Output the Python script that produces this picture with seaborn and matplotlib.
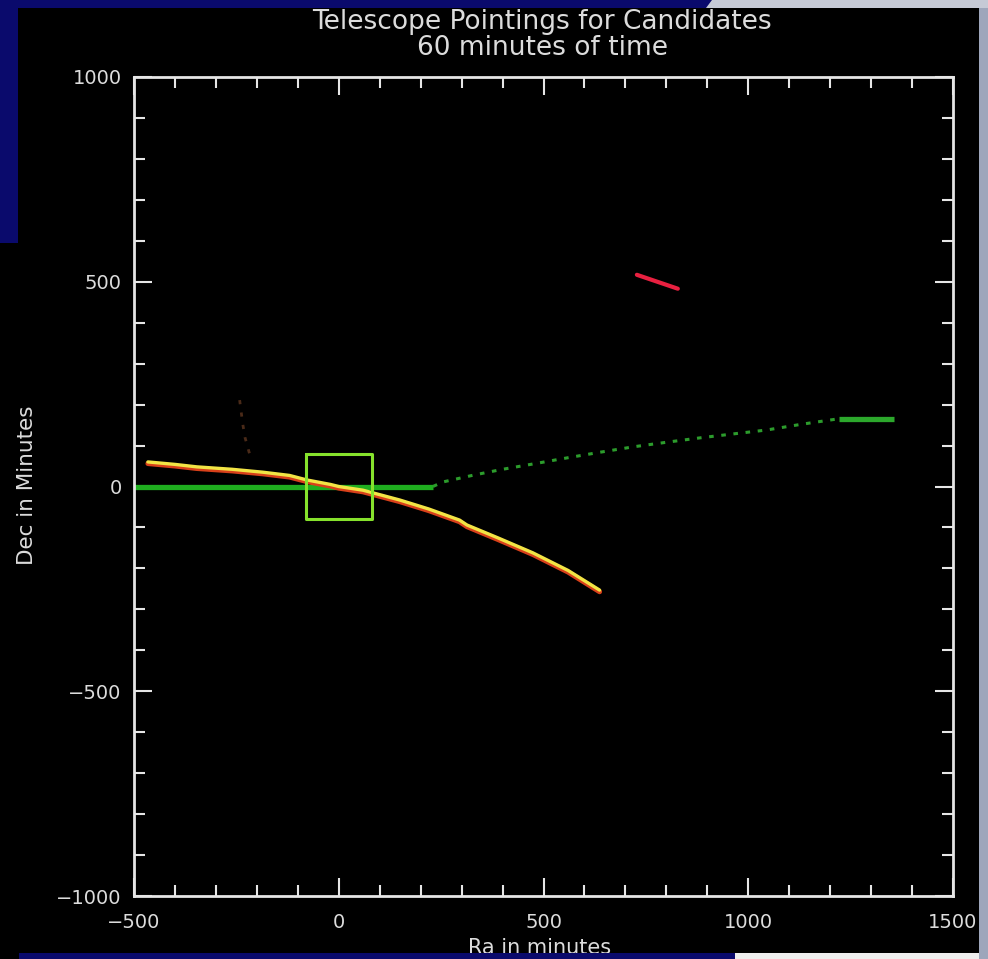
import numpy as np
import pandas as pd
import matplotlib
matplotlib.use("Agg")
import matplotlib.pyplot as plt
from matplotlib.patches import Rectangle, Polygon
from matplotlib.ticker import MultipleLocator
import seaborn as sns

# ---- data ----
yellow_ra = [-466, -400, -347, -260, -186, -120, -78, -20, 0, 59, 149, 220, 295, 313, 390, 474, 560, 637]
yellow_dec = [60, 54, 48, 42, 35, 27, 16, 5, 0, -9, -33, -55, -82, -94, -126, -162, -205, -253]

flat_ra = [-500, 230]
flat_dec = [0, 0]

track_ra = [230, 254, 330, 400, 480, 558, 640, 720, 800, 884, 960, 1045, 1130, 1218]
track_dec = [0, 11, 28, 42, 56, 70, 84, 97, 108, 119, 128, 138, 152, 165]

end_ra = [1222, 1355]
end_dec = [165, 165]

red_ra = [728, 828]
red_dec = [517, 483]

brown_ra = [-242, -238, -234, -229, -222, -217]
brown_dec = [211, 180, 150, 120, 95, 77]

fov_ra = [-80, 80, 80, -80, -80]
fov_dec = [80, 80, -80, -80, 80]

x_ticks = [-500, 0, 500, 1000, 1500]
y_ticks = [-1000, -500, 0, 500, 1000]

title_lines = ["Telescope Pointings for Candidates", "60 minutes of time"]
x_label = "Ra in minutes"
y_label = "Dec in Minutes"

# ---- style ----
sns.set_style("dark", {"axes.facecolor": "black", "figure.facecolor": "black",
                       "axes.edgecolor": "#e6e6e6", "axes.grid": False})
plt.rcParams["font.family"] = ["DejaVu Sans"]
txt = "#dcdcdc"

W, H = 988, 959
fig = plt.figure(figsize=(W / 100, H / 100), dpi=100, facecolor="black")
ax = fig.add_axes([134 / W, 1 - 896 / H, (953 - 134) / W, (896 - 77) / H])
ax.set_facecolor("black")

def draw(xs, ys, **kw):
    d = pd.DataFrame({"ra": xs, "dec": ys})
    sns.lineplot(data=d, x="ra", y="dec", sort=False, estimator=None, ax=ax, **kw)

draw(flat_ra, flat_dec, color="#1fae1f", lw=3.8, solid_capstyle="butt")
draw(track_ra, track_dec, color="#2c9c2c", lw=2.2, linestyle=(0, (1.5, 2.5)))
draw(end_ra, end_dec, color="#2ca82c", lw=3.8, solid_capstyle="butt")
draw(brown_ra, brown_dec, color="#4a2a18", lw=2.0, linestyle=(0, (1.5, 3)))
draw(yellow_ra, [v - 4 for v in yellow_dec], color="#d8401a", lw=3.6)
draw(yellow_ra, yellow_dec, color="#f2e445", lw=2.4)
draw(red_ra, red_dec, color="#e82040", lw=3.0)
draw(fov_ra, fov_dec, color="#86e22c", lw=2.2)

ax.set_xlim(-500, 1500)
ax.set_ylim(-1000, 1000)
ax.set_xticks(x_ticks)
ax.set_yticks(y_ticks)
ax.set_xticklabels([str(v).replace("-", "\u2212") for v in x_ticks])
ax.set_yticklabels([str(v).replace("-", "\u2212") for v in y_ticks])
ax.xaxis.set_minor_locator(MultipleLocator(100))
ax.yaxis.set_minor_locator(MultipleLocator(100))
ax.tick_params(which="both", direction="in", top=True, right=True, bottom=True, left=True,
               color="#e6e6e6", labelcolor=txt)
ax.tick_params(which="major", length=13, width=1.5, labelsize=14)
ax.tick_params(axis="x", which="major", pad=12)
ax.tick_params(axis="y", which="major", pad=9)
ax.tick_params(which="minor", length=8, width=1.5)
ax.set_xlabel("")
ax.set_ylabel("")
for s in ax.spines.values():
    s.set_color("#e6e6e6")
    s.set_linewidth(2.0)
    s.set_visible(True)

fig.text(542 / W, 1 - 22 / H, title_lines[0], ha="center", va="center", color=txt, fontsize=19)
fig.text(542 / W, 1 - 48 / H, title_lines[1], ha="center", va="center", color=txt, fontsize=19)
fig.text(540 / W, 1 - 948 / H, x_label, ha="center", va="center", color=txt, fontsize=15)
fig.text(27 / W, 1 - 485 / H, y_label, ha="center", va="center", color=txt, fontsize=15.5, rotation=90)

# ---- slide frame around the screenshot ----
navy = "#0a0a6c"
def frect(x0, y0, x1, y1, c):
    fig.patches.append(Rectangle((x0 / W, 1 - y1 / H), (x1 - x0) / W, (y1 - y0) / H,
                                 transform=fig.transFigure, facecolor=c, edgecolor="none", zorder=10))
frect(0, 0, 718, 8, navy)
fig.patches.append(Polygon([(712 / W, 1), (W / W, 1), (W / W, 1 - 8 / H), (706 / W, 1 - 8 / H)],
                           closed=True, transform=fig.transFigure, facecolor="#c6cad6",
                           edgecolor="none", zorder=11))
frect(0, 0, 18, 243, navy)
frect(979, 0, 988, 959, "#9ea6bb")
frect(19, 953, 735, 959, navy)
frect(735, 953, 979, 959, "#eeeeee")

fig.savefig("out.png", dpi=100, facecolor="black")
